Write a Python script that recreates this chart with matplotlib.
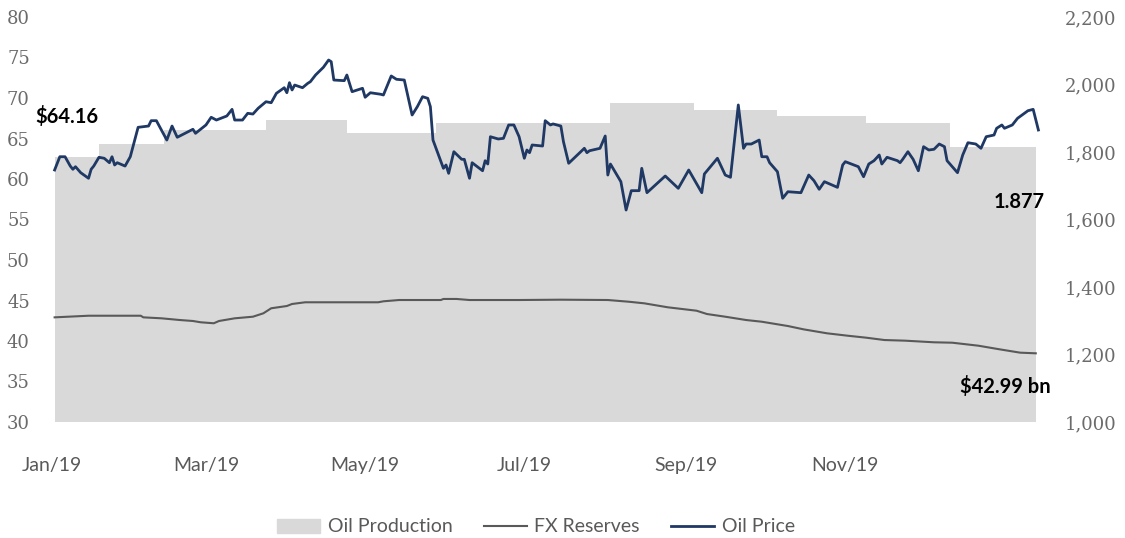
import numpy as np
import matplotlib.pyplot as plt
from matplotlib.patches import Patch
from matplotlib.lines import Line2D
from matplotlib.ticker import FuncFormatter

# days counted from 1 Jan 2019
start = np.datetime64('2019-01-01')

# Oil production (right axis), monthly steps
prod_day = [1, 18, 43, 82, 113, 147, 214, 246, 278, 312, 344]
prod_val = [1785, 1824, 1865, 1895, 1855, 1887, 1945, 1925, 1906, 1887, 1814]
prod_end = 377

# FX reserves (left axis)
fx_day = [1, 14, 34, 35, 42, 49, 54, 57, 62, 64,
          70, 77, 81, 84, 90, 92, 97, 125, 127, 133,
          149, 150, 155, 160, 179, 195, 213, 221, 227, 236,
          247, 251, 258, 266, 272, 282, 288, 297, 305, 312,
          319, 327, 338, 345, 355, 363, 371, 377]
fx_val = [42.92, 43.12, 43.12, 42.92, 42.80, 42.59, 42.47, 42.31, 42.19, 42.47,
          42.80, 43.00, 43.42, 44.04, 44.32, 44.57, 44.78, 44.78, 44.90, 45.06,
          45.06, 45.19, 45.19, 45.06, 45.06, 45.10, 45.06, 44.85, 44.65, 44.16,
          43.74, 43.33, 43.00, 42.59, 42.38, 41.85, 41.44, 40.95, 40.65, 40.41,
          40.12, 40.04, 39.84, 39.79, 39.42, 38.98, 38.56, 38.48]

# Oil price (left axis)
price_day = [1, 3, 5, 7, 8, 9, 11, 14, 15, 16,
             18, 20, 22, 23, 24, 25, 28, 30, 33, 37,
             38, 40, 44, 46, 48, 54, 55, 59, 61, 63,
             67, 69, 70, 73, 75, 77, 79, 82, 84, 86,
             89, 90, 91, 92, 93, 96, 98, 99, 101, 104,
             106, 107, 108, 112, 113, 115, 119, 120, 122, 126,
             127, 130, 132, 135, 138, 140, 142, 144, 145, 146,
             150, 151, 152, 154, 157, 158, 160, 161, 165, 166,
             167, 168, 171, 173, 175, 177, 179, 181, 182, 183,
             184, 188, 189, 191, 192, 195, 196, 198, 200, 204,
             205, 206, 210, 212, 213, 214, 218, 220, 222, 225,
             226, 228, 235, 240, 244, 249, 250, 255, 258, 260,
             263, 265, 266, 268, 271, 272, 274, 275, 278, 280,
             282, 287, 290, 292, 294, 296, 301, 303, 304, 309,
             311, 313, 315, 317, 318, 320, 324, 325, 326, 328,
             330, 332, 334, 336, 338, 340, 342, 343, 347, 349,
             351, 354, 356, 358, 361, 362, 364, 365, 368, 370,
             374, 376, 378]
price_val = [61.11, 62.75, 62.75, 61.60, 61.20, 61.52, 60.78, 60.09, 61.20, 61.60,
             62.68, 62.56, 62.01, 62.75, 61.73, 62.01, 61.60, 62.75, 66.38, 66.54,
             67.20, 67.20, 64.81, 66.54, 65.15, 66.14, 65.64, 66.67, 67.62, 67.28,
             67.78, 68.60, 67.28, 67.28, 68.11, 68.02, 68.73, 69.54, 69.42, 70.58,
             71.27, 70.65, 71.89, 70.99, 71.60, 71.27, 71.81, 72.01, 72.84, 73.79,
             74.69, 74.48, 72.22, 72.14, 72.84, 70.78, 71.20, 70.09, 70.65, 70.46,
             70.37, 72.72, 72.31, 72.22, 67.90, 68.93, 70.16, 69.96, 68.93, 64.81,
             61.32, 61.73, 60.70, 63.37, 62.43, 62.43, 60.09, 62.01, 61.02, 62.26,
             61.85, 65.22, 64.94, 65.02, 66.67, 66.67, 65.22, 62.56, 63.58, 63.25,
             64.20, 64.07, 67.20, 66.67, 66.80, 66.54, 64.60, 61.94, 62.56, 63.79,
             63.25, 63.49, 63.79, 65.31, 60.49, 61.85, 59.67, 56.17, 58.56, 58.56,
             61.32, 58.31, 60.37, 58.85, 61.11, 58.31, 60.62, 62.56, 60.49, 60.21,
             69.14, 63.79, 64.32, 64.32, 64.81, 62.75, 62.75, 62.01, 60.90, 57.62,
             58.43, 58.31, 60.49, 59.79, 58.73, 59.67, 58.97, 61.73, 62.14, 61.52,
             60.28, 61.85, 62.26, 62.96, 61.85, 62.68, 62.26, 62.01, 62.43, 63.37,
             62.43, 61.02, 63.99, 63.58, 63.67, 64.32, 63.99, 62.26, 60.78, 62.96,
             64.48, 64.32, 63.79, 65.22, 65.43, 66.26, 66.67, 66.26, 66.67, 67.49,
             68.43, 68.60, 66.05]

tick_dates = ['2019-01-01', '2019-03-01', '2019-05-01', '2019-07-01', '2019-09-01', '2019-11-01']
tick_labels = ['Jan/19', 'Mar/19', 'May/19', 'Jul/19', 'Sep/19', 'Nov/19']


def to_dates(days):
    return start + np.array(days).astype('timedelta64[D]')


W, H = 1125, 538
fig = plt.figure(figsize=(W / 100, H / 100), dpi=100)
ax = fig.add_axes([52 / W, 1 - 422 / H, (1041 - 52) / W, (422 - 17) / H])
ax2 = ax.twinx()
ax.set_zorder(ax2.get_zorder() + 1)
ax.patch.set_visible(False)

area_x = to_dates(prod_day + [prod_end])
area_y = prod_val + [prod_val[-1]]
ax2.fill_between(area_x, area_y, 1000, step='post', color='#d9d9d9', lw=0)
ax2.set_ylim(1000, 2200)
ax2.set_yticks(np.arange(1000, 2201, 200))
ax2.yaxis.set_major_formatter(FuncFormatter(lambda v, p: '{:,.0f}'.format(v)))

ax.plot(to_dates(fx_day), fx_val, color='#595959', lw=1.5)
ax.plot(to_dates(price_day), price_val, color='#1f3864', lw=2.0)
ax.set_ylim(30, 80)
ax.set_yticks(np.arange(30, 81, 5))
ax.set_xlim(start, start + np.timedelta64(379, 'D'))
ax.set_xticks(np.array(tick_dates, dtype='datetime64[D]'))
ax.set_xticklabels(tick_labels)

for a in (ax, ax2):
    for s in a.spines.values():
        s.set_visible(False)
ax.tick_params(axis='y', length=0, pad=16, labelsize=13, labelcolor='#6b6b6b')
ax2.tick_params(axis='y', length=0, pad=17, labelsize=13, labelcolor='#6b6b6b')
ax.tick_params(axis='x', length=0, pad=25, labelsize=14, labelcolor='#595959')
for lab in ax.get_yticklabels() + ax2.get_yticklabels():
    lab.set_family('DejaVu Serif')
for lab in ax.get_xticklabels():
    lab.set_family('Lato')

fig.text(35 / W, 1 - 116 / H, '$64.16', fontsize=14.5, fontweight='bold',
         family='Lato', ha='left', va='center')
fig.text(1045 / W, 1 - 202 / H, '1.877', fontsize=14.5, fontweight='bold',
         family='Lato', ha='right', va='center')
fig.text(1051 / W, 1 - 386 / H, '$42.99 bn', fontsize=14.5, fontweight='bold',
         family='Lato', ha='right', va='center')

handles = [Patch(color='#d9d9d9'),
           Line2D([], [], color='#595959', lw=1.5),
           Line2D([], [], color='#1f3864', lw=2.0)]
fig.legend(handles, ['Oil Production', 'FX Reserves', 'Oil Price'],
           loc='center', bbox_to_anchor=(536 / W, 1 - 527 / H), ncol=3,
           frameon=False, prop={'family': 'Lato', 'size': 14},
           labelcolor='#595959', handlelength=2.2, handletextpad=0.4,
           columnspacing=1.6, borderpad=0.2)

fig.savefig('out.png', dpi=100)
